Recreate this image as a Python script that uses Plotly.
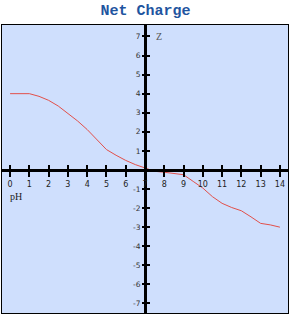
import plotly.graph_objects as go

ph = [0, 0.5, 1, 1.5, 2, 2.5, 3, 3.5, 4, 4.5, 5, 5.5, 6, 6.5, 7,
      7.5, 8, 8.5, 9, 9.5, 10, 10.5, 11, 11.5, 12, 12.5, 13, 13.5, 14]
z = [4.0, 4.0, 4.0, 3.86, 3.65, 3.35, 2.98, 2.57, 2.12, 1.6, 1.07, 0.77, 0.5, 0.28, 0.1,
     -0.07, -0.12, -0.17, -0.25, -0.6, -0.95, -1.4, -1.75, -1.97, -2.14, -2.46, -2.8, -2.88, -3.0]
xticks = list(range(0, 15))
yticks = list(range(-7, 8))

XR = [-0.42, 14.42]
YR = [-7.5, 7.6]
ypos = (0 - YR[0]) / (YR[1] - YR[0])
xpos = (7 - XR[0]) / (XR[1] - XR[0])

fig = go.Figure()
fig.add_trace(go.Scatter(x=ph, y=z, mode="lines", line=dict(color="#e2504a", width=1),
                         hoverinfo="skip", showlegend=False))
# dummy traces to register the crossing axes
for xa, ya in [("x2", "y"), ("x3", "y"), ("x", "y2"), ("x", "y3")]:
    fig.add_trace(go.Scatter(x=[None], y=[None], xaxis=xa, yaxis=ya, showlegend=False))

tickfont = dict(family="DejaVu Sans", size=8, color="#222222")
common_frame = dict(showline=True, mirror=True, linecolor="black", linewidth=1,
                    showgrid=False, zeroline=False, showticklabels=False, ticks="")
fig.update_layout(
    width=291, height=315,
    margin=dict(l=2, r=3, t=25, b=2),
    paper_bgcolor="white", plot_bgcolor="#cfdffd",
    title=dict(text="<b>Net Charge</b>", x=0.5, xanchor="center", y=0.985, yanchor="top",
               font=dict(family="Liberation Mono", size=15, color="#1f55a0")),
    xaxis=dict(range=XR, **common_frame),
    yaxis=dict(range=YR, **common_frame),
    xaxis2=dict(range=XR, overlaying="x", anchor="free", position=ypos, side="bottom",
                showline=True, linecolor="black", linewidth=3, showgrid=False, zeroline=False,
                tickvals=xticks, ticktext=[str(t) for t in xticks], ticks="outside",
                ticklen=5, tickwidth=1.5, tickcolor="black", tickfont=tickfont),
    xaxis3=dict(range=XR, overlaying="x", anchor="free", position=ypos, side="top",
                showline=False, showgrid=False, zeroline=False, showticklabels=False,
                tickvals=xticks, ticks="outside", ticklen=5, tickwidth=1.5, tickcolor="black"),
    yaxis2=dict(range=YR, overlaying="y", anchor="free", position=xpos, side="left",
                showline=True, linecolor="black", linewidth=3, showgrid=False, zeroline=False,
                tickvals=[t for t in yticks if t != 0],
                ticktext=[str(t) for t in yticks if t != 0], ticks="outside",
                ticklen=2, tickwidth=1.5, tickcolor="black",
                tickfont=dict(family="DejaVu Sans", size=7.5, color="#333333")),
    yaxis3=dict(range=YR, overlaying="y", anchor="free", position=xpos, side="right",
                showline=False, showgrid=False, zeroline=False, showticklabels=False,
                tickvals=[t for t in yticks if t != 0], ticks="outside",
                ticklen=4, tickwidth=1.5, tickcolor="black"),
    annotations=[
        dict(text="pH", x=-0.1, y=-1.4, xref="x", yref="y", showarrow=False,
             xanchor="left", font=dict(family="Liberation Serif", size=10, color="#222222")),
        dict(text="Z", x=7.45, y=7.0, xref="x", yref="y", showarrow=False,
             xanchor="left", font=dict(family="Liberation Serif", size=10, color="#555555")),
    ],
)
fig.write_html("out.html")
